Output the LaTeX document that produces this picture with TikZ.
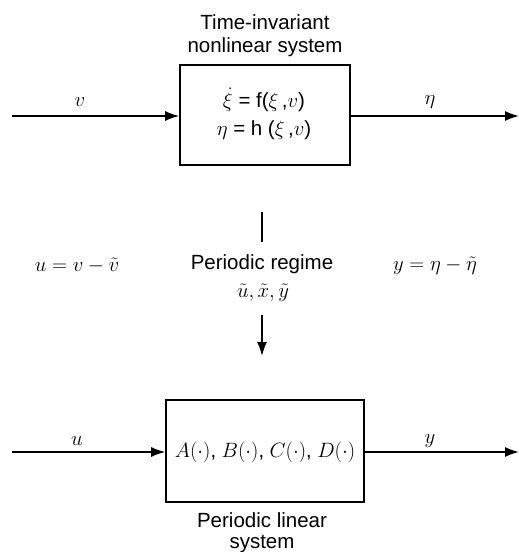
\documentclass[tikz,border=0pt]{standalone}
\usepackage{fontspec}
\setmainfont{Liberation Sans}
\usetikzlibrary{arrows.meta}
\begin{document}
\begin{tikzpicture}[x=1pt,y=-1pt,
  blk/.style={draw,line width=1.6pt,inner sep=0pt},
  conn/.style={line width=1.6pt,-{Latex[length=14pt,width=10pt]}},
  txt/.style={font=\fontsize{20.5}{24}\selectfont,inner sep=0pt},
  mth/.style={font=\fontsize{20}{24}\selectfont,inner sep=0pt}]
\useasboundingbox (0,0) rectangle (519,552);
% top block
\node[blk,minimum width=170pt,minimum height=100pt] (sys) at (265,115) {};
\node[txt] (eq1) at (264,100) {$\dot\xi$ = f($\xi$\,,$v$)};
\node[txt] (eq2) at (264,130) {$\eta$ = h ($\xi$\,,$v$)};
\node[txt] (t1) at (265,22) {Time-invariant};
\node[txt] (t2) at (265,47) {nonlinear system};
\coordinate (vin) at (12,116);
\coordinate (etaout) at (519,116);
\draw[conn] (vin) -- (vin -| sys.west);
\draw[conn] (etaout -| sys.east) -- (etaout);
\node[mth] (lv) at (80,102) {$v$};
\node[mth] (leta) at (430,102) {$\eta$};
% middle
\coordinate (m1) at (262,212);
\coordinate (m2) at (262,242);
\draw[line width=1.6pt] (m1) -- (m2);
\node[txt] (pr) at (262,264) {Periodic regime};
\node[mth] (tl) at (263,293) {$\tilde u,\tilde x,\tilde y$};
\node[mth] (ueq) at (77,266) {$u = v - \tilde v$};
\node[mth] (yeq) at (435,266) {$y = \eta - \tilde\eta$};
\coordinate (m3) at (262,315);
% bottom block
\node[blk,minimum width=198pt,minimum height=102pt] (lin) at (265,451) {};
\draw[conn] (m3) -- (262,356);
\node[mth] (abcd) at (265,452) {$A(\cdot)$, $B(\cdot)$, $C(\cdot)$, $D(\cdot)$};
\coordinate (uin) at (12,452);
\coordinate (yout) at (519,452);
\draw[conn] (uin) -- (uin -| lin.west);
\draw[conn] (yout -| lin.east) -- (yout);
\node[mth] (lu) at (77,441) {$u$};
\node[mth] (ly) at (430,441) {$y$};
\node[txt] (b1) at (262,520) {Periodic linear};
\node[txt] (b2) at (262,544) {system};
\end{tikzpicture}
\end{document}
